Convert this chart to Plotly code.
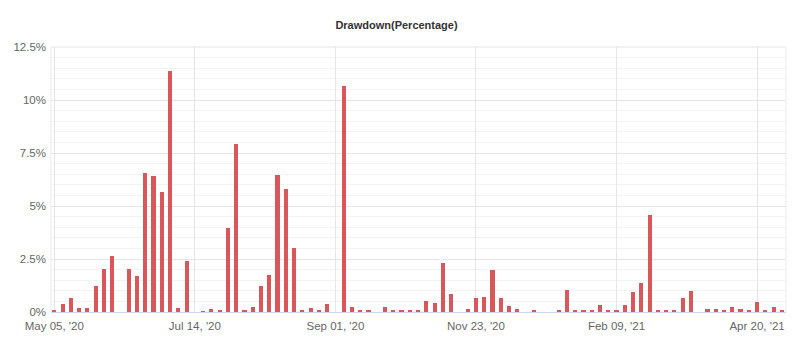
import plotly.graph_objects as go

# Drawdown (%) per period
drawdown = [
    0.10, 0.38, 0.68, 0.20, 0.20, 1.23, 2.03, 2.64, 0.00, 2.03,
    1.70, 6.56, 6.42, 5.66, 11.37, 0.20, 2.41, 0.00, 0.03, 0.14,
    0.05, 3.96, 7.92, 0.05, 0.24, 1.23, 1.75, 6.46, 5.80, 3.02,
    0.05, 0.19, 0.05, 0.38, 0.00, 10.64, 0.24, 0.05, 0.05, 0.00,
    0.24, 0.05, 0.05, 0.05, 0.05, 0.52, 0.41, 2.31, 0.85, 0.00,
    0.16, 0.68, 0.71, 2.00, 0.68, 0.28, 0.14, 0.00, 0.09, 0.00,
    0.00, 0.05, 1.05, 0.05, 0.10, 0.06, 0.33, 0.10, 0.10, 0.35,
    0.94, 1.37, 4.58, 0.05, 0.10, 0.10, 0.68, 0.99, 0.00, 0.16,
    0.16, 0.06, 0.24, 0.16, 0.11, 0.47, 0.05, 0.24, 0.05,
]
periods = list(range(len(drawdown)))

x_tick_positions = [0, 17, 34, 51, 68, 85]
x_tick_labels = ["May 05, '20", "Jul 14, '20", "Sep 01, '20", "Nov 23, '20", "Feb 09, '21", "Apr 20, '21"]
y_tick_values = [0, 2.5, 5, 7.5, 10, 12.5]
y_tick_labels = ["0%", "2.5%", "5%", "7.5%", "10%", "12.5%"]

fig = go.Figure(
    go.Bar(
        x=periods,
        y=drawdown,
        width=0.5,
        marker=dict(color="#d9575b", line=dict(width=0)),
    )
)

fig.update_layout(
    width=793,
    height=343,
    margin=dict(l=51, r=7, t=47, b=31),
    paper_bgcolor="white",
    plot_bgcolor="white",
    showlegend=False,
    font=dict(family="Arial, Liberation Sans, sans-serif", color="#666666", size=11),
    title=dict(
        text="<b>Drawdown(Percentage)</b>",
        x=0.5,
        xanchor="center",
        y=1 - 25 / 343,
        yanchor="middle",
        font=dict(size=11, color="#333333", family="Arial, Liberation Sans, sans-serif"),
    ),
    bargap=0,
)

fig.update_xaxes(
    range=[-0.4, 88.5],
    tickmode="array",
    tickvals=x_tick_positions,
    ticktext=x_tick_labels,
    showgrid=True,
    gridcolor="#e6e6e6",
    gridwidth=1,
    zeroline=False,
    showline=True,
    linecolor="#ccd6eb",
    ticks="",
    ticklabelstandoff=3,
    tickfont=dict(size=11.5, color="#666666"),
    mirror=False,
)

fig.update_yaxes(
    range=[0, 12.5],
    tickmode="array",
    tickvals=y_tick_values,
    ticktext=y_tick_labels,
    showgrid=True,
    gridcolor="#e6e6e6",
    gridwidth=1,
    zeroline=False,
    showline=False,
    ticks="",
    ticklabelstandoff=4,
    tickfont=dict(size=11.5, color="#666666"),
    minor=dict(dtick=0.5, showgrid=True, gridcolor="#f3f3f3", gridwidth=1, tick0=0),
)

# thin frame lines on the left, top and right of the plot area
fig.add_shape(type="line", xref="paper", yref="paper", x0=0, x1=0, y0=0, y1=1,
              line=dict(color="#ececec", width=1), layer="below")
fig.add_shape(type="line", xref="paper", yref="paper", x0=1, x1=1, y0=0, y1=1,
              line=dict(color="#ececec", width=1), layer="below")
fig.add_shape(type="line", xref="paper", yref="paper", x0=0, x1=1, y0=1, y1=1,
              line=dict(color="#e6e6e6", width=1), layer="below")

fig.write_html("out.html")
